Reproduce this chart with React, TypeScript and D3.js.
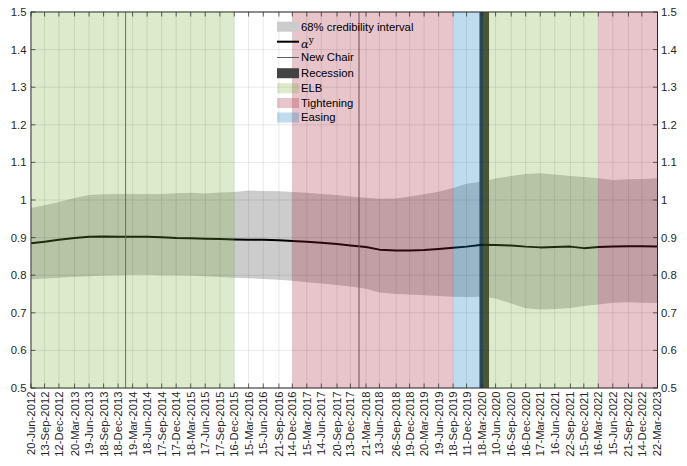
import React from 'react';
import * as d3 from 'd3';

const tickLabels = [
  "20-Jun-2012","13-Sep-2012","12-Dec-2012","20-Mar-2013","19-Jun-2013","18-Sep-2013","18-Dec-2013",
  "19-Mar-2014","18-Jun-2014","17-Sep-2014","17-Dec-2014","18-Mar-2015","17-Jun-2015","17-Sep-2015",
  "16-Dec-2015","15-Mar-2016","15-Jun-2016","21-Sep-2016","14-Dec-2016","15-Mar-2017","14-Jun-2017",
  "20-Sep-2017","13-Dec-2017","21-Mar-2018","13-Jun-2018","26-Sep-2018","19-Dec-2018","20-Mar-2019",
  "19-Jun-2019","18-Sep-2019","11-Dec-2019","18-Mar-2020","10-Jun-2020","16-Sep-2020","16-Dec-2020",
  "17-Mar-2021","16-Jun-2021","22-Sep-2021","15-Dec-2021","16-Mar-2022","15-Jun-2022","21-Sep-2022",
  "14-Dec-2022","22-Mar-2023"
];

const medianValues = [
  0.885,0.889,0.894,0.899,0.902,0.903,0.902,0.902,0.902,0.901,0.899,0.898,0.897,0.896,
  0.895,0.894,0.894,0.893,0.891,0.889,0.886,0.883,0.879,0.875,0.868,0.866,0.866,0.867,
  0.870,0.873,0.876,0.881,0.880,0.879,0.876,0.874,0.875,0.876,0.872,0.875,0.876,0.877,
  0.877,0.876
];
const upperValues = [
  0.979,0.986,0.995,1.005,1.013,1.015,1.016,1.016,1.016,1.016,1.018,1.019,1.017,1.020,
  1.021,1.025,1.024,1.023,1.021,1.019,1.016,1.013,1.009,1.006,1.003,1.004,1.009,1.015,
  1.022,1.032,1.043,1.049,1.057,1.064,1.069,1.071,1.068,1.064,1.061,1.058,1.053,1.055,
  1.056,1.058
];
const lowerValues = [
  0.789,0.791,0.793,0.796,0.797,0.799,0.800,0.801,0.801,0.800,0.800,0.799,0.797,0.795,
  0.793,0.792,0.790,0.788,0.785,0.781,0.778,0.774,0.770,0.764,0.754,0.750,0.749,0.747,
  0.745,0.743,0.742,0.743,0.738,0.725,0.712,0.709,0.710,0.713,0.718,0.722,0.727,0.728,
  0.727,0.726
];

const newChairDates = ["03-Feb-2014", "05-Feb-2018"];
const elbPeriods = [["20-Jun-2012", "16-Dec-2015"], ["23-Mar-2020", "16-Mar-2022"]];
const tighteningPeriods = [["14-Dec-2016", "18-Sep-2019"], ["16-Mar-2022", "22-Mar-2023"]];
const easingPeriods = [["18-Sep-2019", "23-Mar-2020"]];
const recessionPeriods = [["01-Mar-2020", "30-Apr-2020"]];
const yTickValues = [0.5, 0.6, 0.7, 0.8, 0.9, 1.0, 1.1, 1.2, 1.3, 1.4, 1.5];
const yTickLabels = ["0.5", "0.6", "0.7", "0.8", "0.9", "1", "1.1", "1.2", "1.3", "1.4", "1.5"];
const legendLabels = ["68% credibility interval", "αy", "New Chair", "Recession", "ELB", "Tightening", "Easing"];

const W = 687, H = 466;
const L = 31, R = 657.5, T = 12, B = 388;
const FONT = "'Liberation Sans', Arial, Helvetica, sans-serif";
const FS = 11.3;
const TXT = "#262626";
const GREEN = "rgb(119,172,48)";
const RED = "rgb(162,20,47)";
const BLUE = "rgb(0,114,189)";
const BAND = "#cccccc";
const REC = "rgb(58,58,58)";
const CHAIR = "rgb(95,95,95)";

const parse = d3.timeParse("%d-%b-%Y");

export default function App() {
  const dates = tickLabels.map((s) => parse(s) as Date);
  const x = d3.scaleTime().domain([dates[0], dates[dates.length - 1]]).range([L, R]);
  const y = d3.scaleLinear().domain([0.5, 1.5]).range([B, T]);

  const pts = dates.map((d, i) => ({ d, m: medianValues[i], u: upperValues[i], l: lowerValues[i] }));
  const area = d3.area<any>().x((p) => x(p.d)).y0((p) => y(p.l)).y1((p) => y(p.u));
  const line = d3.line<any>().x((p) => x(p.d)).y((p) => y(p.m));

  const rects = (periods: string[][], fill: string, op: number, key: string) =>
    periods.map((p, i) => {
      const x0 = x(parse(p[0]) as Date);
      const x1 = x(parse(p[1]) as Date);
      return <rect key={key + i} x={x0} y={T} width={x1 - x0} height={B - T} fill={fill} fillOpacity={op} />;
    });

  const legX = 277, legW = 22, legTx = 301;
  const legY = [26.7, 41.7, 57.5, 73.2, 88.2, 103, 117.5];

  return (
    <svg width={W} height={H} style={{ position: 'absolute', left: 0, top: 0, background: '#fff' }} fontFamily={FONT}>
      <rect x={0} y={0} width={W} height={H} fill="#fff" />
      <path d={area(pts) || ''} fill={BAND} />
      {rects(recessionPeriods, REC, 1, 'rec')}
      <path d={line(pts) || ''} fill="none" stroke="#000" strokeWidth={2} strokeLinejoin="round" />
      {newChairDates.map((s, i) => {
        const xx = x(parse(s) as Date);
        return <line key={'nc' + i} x1={xx} x2={xx} y1={T} y2={B} stroke={CHAIR} strokeWidth={1} />;
      })}
      <rect x={L} y={T} width={R - L} height={B - T} fill="none" stroke={TXT} strokeWidth={1} />
      {rects(elbPeriods, GREEN, 0.25, 'elb')}
      {rects(tighteningPeriods, RED, 0.25, 'tig')}
      {rects(easingPeriods, BLUE, 0.25, 'eas')}
      {dates.map((d, i) => (
        <line key={'gx' + i} x1={x(d)} x2={x(d)} y1={T} y2={B} stroke="#262626" strokeOpacity={0.1} strokeWidth={1} />
      ))}
      {yTickValues.map((v, i) => (
        <line key={'gy' + i} x1={L} x2={R} y1={y(v)} y2={y(v)} stroke="#262626" strokeOpacity={0.1} strokeWidth={1} />
      ))}
      {dates.map((d, i) => (
        <g key={'tx' + i}>
          <line x1={x(d)} x2={x(d)} y1={T} y2={T + 4.5} stroke={TXT} strokeOpacity={0.7} />
          <line x1={x(d)} x2={x(d)} y1={B} y2={B - 4.5} stroke={TXT} strokeOpacity={0.7} />
        </g>
      ))}
      {yTickValues.map((v, i) => (
        <g key={'ty' + i}>
          <line x1={L} x2={L + 4.5} y1={y(v)} y2={y(v)} stroke={TXT} strokeOpacity={0.7} />
          <line x1={R} x2={R - 4.5} y1={y(v)} y2={y(v)} stroke={TXT} strokeOpacity={0.7} />
        </g>
      ))}
      {yTickValues.map((v, i) => (
        <g key={'yl' + i} fontSize={FS} fill={TXT}>
          <text x={26.5} y={y(v)} dy="0.35em" textAnchor="end">{yTickLabels[i]}</text>
          <text x={661} y={y(v)} dy="0.35em" textAnchor="start">{yTickLabels[i]}</text>
        </g>
      ))}
      {dates.map((d, i) => (
        <text key={'xl' + i} transform={`translate(${x(d)},${B + 3.5}) rotate(-90)`} textAnchor="end" dy="0.35em"
          fontSize={FS} fill={TXT}>{tickLabels[i]}</text>
      ))}
      <g fontSize={FS} fill="#000">
        <rect x={legX} y={legY[0] - 5} width={legW} height={10} fill={BAND} />
        <text x={legTx} y={legY[0]} dy="0.35em">{legendLabels[0]}</text>
        <line x1={legX} x2={legX + legW} y1={legY[1]} y2={legY[1]} stroke="#000" strokeWidth={2} />
        <text x={legTx} y={legY[1] + 6.3} fontFamily="'DejaVu Serif', 'Liberation Serif', serif">
          <tspan fontStyle="italic" fontSize={11.5}>{legendLabels[1].charAt(0)}</tspan>
          <tspan fontSize={9} dy={-5.5}>{legendLabels[1].charAt(1)}</tspan>
        </text>
        <line x1={legX} x2={legX + legW} y1={legY[2]} y2={legY[2]} stroke={CHAIR} strokeWidth={1} />
        <text x={legTx} y={legY[2]} dy="0.35em">{legendLabels[2]}</text>
        <rect x={legX} y={legY[3] - 5} width={legW} height={10} fill={REC} fillOpacity={0.95} />
        <text x={legTx} y={legY[3]} dy="0.35em">{legendLabels[3]}</text>
        <rect x={legX} y={legY[4] - 5} width={legW} height={10} fill={GREEN} fillOpacity={0.25} />
        <text x={legTx} y={legY[4]} dy="0.35em">{legendLabels[4]}</text>
        <rect x={legX} y={legY[5] - 5} width={legW} height={10} fill={RED} fillOpacity={0.25} />
        <text x={legTx} y={legY[5]} dy="0.35em">{legendLabels[5]}</text>
        <rect x={legX} y={legY[6] - 5} width={legW} height={10} fill={BLUE} fillOpacity={0.25} />
        <text x={legTx} y={legY[6]} dy="0.35em">{legendLabels[6]}</text>
      </g>
    </svg>
  );
}
